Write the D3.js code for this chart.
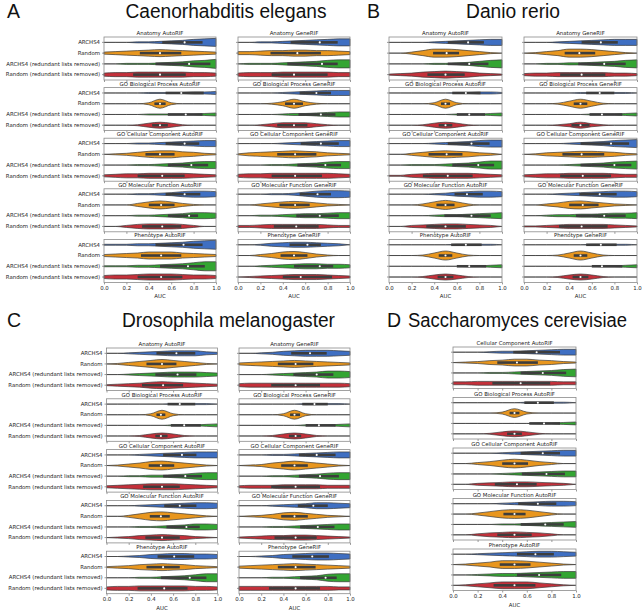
<!DOCTYPE html>
<html><head><meta charset="utf-8">
<script src="https://cdn.jsdelivr.net/npm/d3@7"></script>
<style>body{margin:0;background:#fff}svg{display:block}</style>
</head><body>
<svg id="c" width="642" height="611"></svg>
<script>
// ---------- data ----------
const groups = ["ARCHS4", "Random", "ARCHS4 (redundant lists removed)", "Random (redundant lists removed)"];
const groupColors = ["#3f6fc2", "#e8961e", "#33a532", "#c4303a"];
const xTicks = [0, 0.2, 0.4, 0.6, 0.8, 1.0];
const densityGrid = [0, 0.1, 0.2, 0.3, 0.4, 0.5, 0.6, 0.7, 0.8, 0.9, 1.0];
// each violin: [density profile at densityGrid (0-9), q1, median, q3]
const celegansPlots = [
 {t:"Anatomy AutoRIF", c:0, r:0, v:[["00011234678",.52,.72,.88],["23456765432",.32,.5,.69],["00111234679",.46,.76,.95],["34455555443",.26,.5,.73]]},
 {t:"Anatomy GeneRIF", c:1, r:0, v:[["00112345677",.47,.73,.89],["33455665543",.29,.53,.74],["01112345788",.44,.75,.89],["34445555544",.30,.5,.8]]},
 {t:"GO Biological Process AutoRIF", c:0, r:1, v:[["00001111223",.55,.69,.89],["00002920000",.45,.5,.55],["00001111123",.57,.73,.88],["00014641000",.43,.5,.57]]},
 {t:"GO Biological Process GeneRIF", c:1, r:1, v:[["00001234555",.55,.70,.83],["00014941000",.42,.5,.58],["00001223455",.54,.74,.87],["00135553100",.35,.5,.62]]},
 {t:"GO Cellular Component AutoRIF", c:0, r:2, v:[["00011234566",.55,.72,.85],["01246775421",.37,.5,.63],["00011234677",.57,.78,.93],["23445555432",.30,.52,.72]]},
 {t:"GO Cellular Component GeneRIF", c:1, r:2, v:[["00001234566",.56,.74,.9],["13456765321",.35,.51,.7],["00011234677",.53,.78,.92],["34455555543",.3,.51,.75]]},
 {t:"GO Molecular Function AutoRIF", c:0, r:3, v:[["00011235665",.55,.72,.86],["00036863100",.4,.51,.63],["00011234665",.57,.76,.84],["00245554200",.34,.52,.69]]},
 {t:"GO Molecular Function GeneRIF", c:1, r:3, v:[["00011246776",.55,.71,.83],["00246764210",.37,.51,.64],["00112344566",.52,.73,.9],["22344444322",.32,.52,.72]]},
 {t:"Phenotype AutoRIF", c:0, r:4, v:[["11122345789",.46,.71,.88],["23457775432",.33,.51,.69],["11122345799",.5,.75,.9],["34456665443",.3,.51,.7]]},
 {t:"Phenotype GeneRIF", c:1, r:4, v:[["00134554320",.46,.62,.74],["00247863100",.38,.5,.62],["00123455443",.5,.73,.85],["01234555432",.4,.56,.84]]}
];
const danioPlots = [
 {t:"Anatomy AutoRIF", c:0, r:0, v:[["00001234566",.52,.70,.84],["00258875310",.39,.51,.62],["00001123578",.52,.71,.88],["12356765321",.34,.5,.67]]},
 {t:"Anatomy GeneRIF", c:1, r:0, v:[["00012345666",.51,.68,.83],["01358875310",.36,.49,.63],["00112234578",.48,.71,.9],["23344444332",.32,.51,.72]]},
 {t:"GO Biological Process AutoRIF", c:0, r:1, v:[["00000011221",.56,.68,.81],["00002920000",.46,.5,.54],["00000011123",.6,.71,.85],["00014641000",.44,.5,.56]]},
 {t:"GO Biological Process GeneRIF", c:1, r:1, v:[["00000111110",.55,.67,.8],["00015951000",.44,.5,.56],["00000011123",.58,.69,.87],["00013631000",.42,.5,.58]]},
 {t:"GO Cellular Component AutoRIF", c:0, r:2, v:[["00001234677",.52,.73,.89],["00246765320",.35,.51,.65],["00111234688",.56,.79,.93],["11345555432",.3,.52,.74]]},
 {t:"GO Cellular Component GeneRIF", c:1, r:2, v:[["00001234678",.5,.77,.93],["01345665421",.34,.51,.71],["00001234678",.5,.8,.95],["23445555433",.32,.52,.77]]},
 {t:"GO Molecular Function AutoRIF", c:0, r:3, v:[["00001245665",.58,.69,.83],["00026962000",.42,.5,.58],["00001223456",.49,.73,.9],["00234554320",.33,.5,.68]]},
 {t:"GO Molecular Function GeneRIF", c:1, r:3, v:[["00012345665",.49,.67,.82],["00247864210",.4,.52,.66],["00122334556",.46,.71,.9],["11234444321",.31,.51,.74]]},
 {t:"Phenotype AutoRIF", c:0, r:4, v:[["00000011110",.55,.68,.82],["00015951000",.44,.5,.56],["00000001123",.6,.71,.86],["00014641000",.43,.5,.57]]},
 {t:"Phenotype GeneRIF", c:1, r:4, v:[["00000011110",.55,.68,.82],["00015951000",.44,.5,.56],["00000001123",.6,.69,.87],["00014641000",.43,.5,.57]]}
];
const drosophilaPlots = [
 {t:"Anatomy AutoRIF", c:0, r:0, v:[["00123455532",.45,.63,.8],["01357975310",.36,.5,.63],["00123455543",.44,.64,.81],["12346765432",.32,.51,.69]]},
 {t:"Anatomy GeneRIF", c:1, r:0, v:[["00124566654",.47,.64,.79],["23456765432",.35,.51,.67],["00012345776",.49,.7,.85],["34444444443",.29,.51,.73]]},
 {t:"GO Biological Process AutoRIF", c:0, r:1, v:[["00000011110",.55,.66,.8],["00002920000",.45,.49,.53],["00000011123",.58,.7,.85],["00014641000",.44,.49,.55]]},
 {t:"GO Biological Process GeneRIF", c:1, r:1, v:[["00000011110",.57,.68,.8],["00002920000",.46,.5,.55],["00000011123",.6,.72,.87],["00014641000",.45,.51,.56]]},
 {t:"GO Cellular Component AutoRIF", c:0, r:2, v:[["00012345666",.51,.68,.81],["01358975310",.38,.49,.61],["00112234677",.51,.71,.86],["23456665432",.33,.5,.66]]},
 {t:"GO Cellular Component GeneRIF", c:1, r:2, v:[["00011234566",.54,.7,.87],["01257975310",.38,.5,.62],["00011234677",.54,.73,.9],["23334444333",.29,.51,.73]]},
 {t:"GO Molecular Function AutoRIF", c:0, r:3, v:[["00012345665",.52,.66,.81],["00258975310",.39,.49,.57],["00011234665",.54,.72,.84],["01245654210",.35,.5,.66]]},
 {t:"GO Molecular Function GeneRIF", c:1, r:3, v:[["00012346654",.53,.67,.8],["01247864210",.38,.5,.62],["00011234566",.55,.71,.86],["12344554321",.32,.51,.7]]},
 {t:"Phenotype AutoRIF", c:0, r:4, v:[["00124566554",.46,.61,.79],["12356765321",.36,.51,.66],["00011234688",.49,.75,.9],["34455555443",.28,.52,.73]]},
 {t:"Phenotype GeneRIF", c:1, r:4, v:[["00124567765",.48,.66,.81],["23456765432",.35,.51,.69],["00011234788",.55,.78,.88],["44444444433",.27,.51,.73]]}
];
const yeastPlots = [
 {t:"Cellular Component AutoRIF", c:0, r:0, v:[["00012234566",.49,.68,.87],["01245775421",.36,.52,.69],["00011234578",.55,.73,.92],["33444444433",.32,.55,.79]]},
 {t:"GO Biological Process AutoRIF", c:0, r:1, v:[["00000011110",.58,.69,.82],["00002920000",.46,.5,.54],["00000001123",.62,.74,.87],["00014641000",.44,.5,.56]]},
 {t:"GO Cellular Component AutoRIF", c:0, r:2, v:[["00001234566",.55,.73,.87],["00247974200",.4,.5,.61],["00001234566",.56,.76,.91],["00234554320",.34,.52,.68]]},
 {t:"GO Molecular Function AutoRIF", c:0, r:3, v:[["00001234554",.53,.69,.84],["00258985200",.41,.5,.59],["00001123456",.55,.75,.9],["00245654200",.36,.5,.64]]},
 {t:"Phenotype AutoRIF", c:0, r:4, v:[["00123456654",.52,.67,.82],["01358875310",.38,.5,.63],["00123345677",.52,.7,.88],["01357775310",.33,.5,.67]]}
];
const panelLetters = ["A", "B", "C", "D"];
const panelTitles = ["Caenorhabditis elegans", "Danio rerio", "Drosophila melanogaster", "Saccharomyces cerevisiae"];
const xLabel = "AUC";

// ---------- layout ----------
const panels = [
 {plots:celegansPlots, cols:[104,238], w:112, top:37, pitch:50.6, h:43, labels:true,
  letter:[7,17.8], title:[125.5,17.8,201]},
 {plots:danioPlots, cols:[389,524], w:113, top:37, pitch:50.6, h:43, labels:false,
  letter:[367,17.8], title:[466,17.8,94]},
 {plots:drosophilaPlots, cols:[106.5,239], w:111, top:348, pitch:50.8, h:42.5, labels:true,
  letter:[7,327], title:[122,327,213]},
 {plots:yeastPlots, cols:[453], w:123, top:347, pitch:50.5, h:41.5, labels:false,
  letter:[387,327], title:[408,327,219]}
];

const svg = d3.select("#c");
const smallFont = "DejaVu Sans";
const bigFont = "Liberation Sans";
const FS = 5.4;

panels.forEach((P, pi) => {
  svg.append("text").attr("x", P.letter[0]).attr("y", P.letter[1])
    .attr("font-family", bigFont).attr("font-size", 19.5).attr("fill", "#111").text(panelLetters[pi]);
  svg.append("text").attr("x", P.title[0]).attr("y", P.title[1])
    .attr("textLength", P.title[2]).attr("lengthAdjust", "spacingAndGlyphs")
    .attr("font-family", bigFont).attr("font-size", 19.5).attr("fill", "#111").text(panelTitles[pi]);

  const nRows = d3.max(P.plots, d => d.r) + 1;
  P.plots.forEach(sp => {
    const x0 = P.cols[sp.c], y0 = P.top + sp.r * P.pitch;
    const x = d3.scaleLinear().domain([0, 1]).range([x0, x0 + P.w]);
    const y = d3.scaleBand().domain(groups).range([y0, y0 + P.h]);
    const g = svg.append("g");
    const step = y.step();
    const maxHW = 0.42 * step;

    // y ticks
    const ya = d3.axisLeft(y).tickSize(2).tickPadding(2);
    if (!P.labels || sp.c > 0) ya.tickFormat("");
    const yg = g.append("g").attr("transform", `translate(${x0},0)`).call(ya);
    yg.select(".domain").remove();
    yg.selectAll("line").attr("stroke", "#555").attr("stroke-width", 0.6);
    yg.selectAll("text").attr("font-family", smallFont).attr("font-size", FS).attr("fill", "#222");

    // x ticks
    const xa = d3.axisBottom(x).tickValues(xTicks).tickSize(2).tickPadding(1.5).tickFormat(d3.format(".1f"));
    const last = sp.r === nRows - 1;
    if (!last) xa.tickFormat("");
    const xg = g.append("g").attr("transform", `translate(0,${y0 + P.h})`).call(xa);
    xg.select(".domain").remove();
    xg.selectAll("line").attr("stroke", "#555").attr("stroke-width", 0.6);
    xg.selectAll("text").attr("font-family", smallFont).attr("font-size", FS).attr("fill", "#222");
    if (last) {
      g.append("text").attr("x", x0 + P.w / 2).attr("y", y0 + P.h + 16).attr("text-anchor", "middle")
        .attr("font-family", smallFont).attr("font-size", FS).attr("fill", "#222").text(xLabel);
    }

    // violins
    sp.v.forEach((vd, gi) => {
      const cy = y(groups[gi]) + step / 2;
      const pts = densityGrid.map((a, i) => ({a, hw: (+vd[0][i]) / 9 * maxHW}));
      const area = d3.area().x(d => x(d.a)).y0(d => cy - d.hw).y1(d => cy + d.hw).curve(d3.curveMonotoneX);
      g.append("path").attr("d", area(pts)).attr("fill", groupColors[gi])
        .attr("stroke", "#3a3a3a").attr("stroke-width", 0.7).attr("stroke-linejoin", "round");
      g.append("rect").attr("x", x(vd[1])).attr("width", x(vd[3]) - x(vd[1]))
        .attr("y", cy - 1.3).attr("height", 2.6).attr("fill", "#3d3d3d");
      g.append("circle").attr("cx", x(vd[2])).attr("cy", cy).attr("r", 1.05).attr("fill", "#fff");
    });

    // frame
    g.append("rect").attr("x", x0).attr("y", y0).attr("width", P.w).attr("height", P.h)
      .attr("fill", "none").attr("stroke", "#8a8a8a").attr("stroke-width", 0.8);
    // title
    g.append("text").attr("x", x0 + P.w / 2).attr("y", y0 - 2).attr("text-anchor", "middle")
      .attr("font-family", smallFont).attr("font-size", FS).attr("fill", "#222").text(sp.t);
  });
});
</script>
</body></html>
